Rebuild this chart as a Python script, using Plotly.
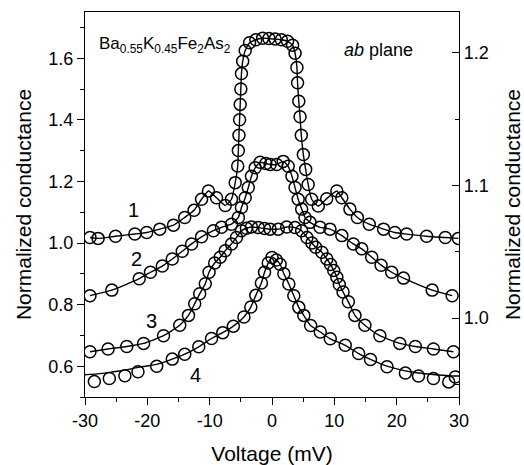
import plotly.graph_objects as go

# ---- data (Voltage in mV, normalized conductance) ----
c1_v = [-29.2, -27.9, -25.1, -22.0, -20.1, -18.0, -15.8, -14.0, -12.5, -11.3, -10.2, -8.9, -7.5, -6.5,
        -5.9, -5.5, -5.4, -5.3, -5.2, -5.1, -5.0, -4.9, -4.7, -4.3, -3.6, -2.6, -1.5, -0.5, 0.5, 1.5,
        2.5, 3.3, 3.7, 4.0, 4.1, 4.3, 4.5, 4.7, 5.03, 5.4, 5.8, 6.36, 7.43, 8.77, 10.4, 11.2, 12.5,
        13.7, 15.6, 17.9, 19.7, 21.6, 24.8, 27.8, 29.9]
c1_g = [1.018, 1.015, 1.022, 1.029, 1.034, 1.045, 1.058, 1.083, 1.106, 1.142, 1.169, 1.147, 1.122, 1.142,
        1.196, 1.25, 1.30, 1.35, 1.40, 1.45, 1.50, 1.55, 1.59, 1.625, 1.65, 1.66, 1.665, 1.664, 1.662, 1.66,
        1.655, 1.642, 1.616, 1.57, 1.52, 1.46, 1.41, 1.35, 1.287, 1.239, 1.19, 1.142, 1.12, 1.144, 1.169, 1.147, 1.11,
        1.083, 1.061, 1.045, 1.034, 1.029, 1.022, 1.018, 1.015]

c2_v = [-29.2, -25.7, -21.3, -19.5, -17.6, -16.0, -14.4, -12.9, -11.3, -9.4, -8.1, -6.5, -5.4, -4.9,
        -4.3, -3.8, -3.3, -2.7, -1.9, -1.0, -0.3, 0.75, 1.8, 2.6, 3.2, 3.7, 4.2, 4.76, 5.3, 6.1, 7.7,
        9.3, 11.2, 13.05, 14.4, 16.0, 17.5, 19.2, 21.1, 25.7, 28.9]
c2_g = [0.829, 0.847, 0.884, 0.905, 0.925, 0.948, 0.973, 0.997, 1.02, 1.04, 1.051, 1.061, 1.083, 1.115,
        1.147, 1.18, 1.217, 1.244, 1.262, 1.258, 1.255, 1.255, 1.265, 1.249, 1.217, 1.18, 1.142, 1.11, 1.083, 1.067, 1.051,
        1.045, 1.024, 0.997, 0.981, 0.954, 0.928, 0.905, 0.886, 0.847, 0.829]

c3_v = [-29.2, -26.3, -23.3, -20.6, -17.4, -14.8, -13.4, -12.4, -11.6, -10.7, -10.1, -9.2, -8.3, -7.5,
        -6.5, -5.7, -4.9, -4.1, -3.3, -2.2, -1.2, -0.3, 1.0, 2.35, 3.7, 4.76, 5.6, 6.4, 7.0, 8.0, 8.8,
        9.4, 9.9, 10.4, 10.8, 11.4, 12.25, 13.3, 14.9, 17.3, 20.5, 23.0, 25.9, 29.1]
c3_g = [0.647, 0.656, 0.664, 0.674, 0.699, 0.733, 0.765, 0.803, 0.835, 0.868, 0.905, 0.935, 0.954, 0.975,
        0.997, 1.018, 1.040, 1.048, 1.052, 1.050, 1.047, 1.045, 1.045, 1.052, 1.050, 1.04, 1.018, 1.0, 0.986, 0.97, 0.948,
        0.93, 0.911, 0.889, 0.865, 0.841, 0.809, 0.765, 0.733, 0.699, 0.674, 0.664, 0.656, 0.647]

c4_v = [-28.5, -26.1, -23.6, -21.5, -18.5, -16.0, -14.0, -11.75, -9.7, -7.9, -6.2, -4.5, -3.4, -2.6,
        -1.7, -1.2, -0.6, 0.0, 0.7, 1.3, 1.9, 2.7, 3.5, 4.3, 5.1, 6.2, 7.75, 9.35, 11.75, 13.9, 15.8,
        18.45, 21.4, 23.5, 25.9, 28.35, 29.4]
c4_g = [0.55, 0.56, 0.569, 0.582, 0.60, 0.623, 0.639, 0.663, 0.69, 0.709, 0.73, 0.76, 0.792, 0.83,
        0.87, 0.905, 0.935, 0.953, 0.945, 0.931, 0.9, 0.867, 0.829, 0.791, 0.765, 0.732, 0.711, 0.689, 0.668, 0.641, 0.622,
        0.598, 0.578, 0.568, 0.56, 0.549, 0.565]

c4_line_v = [-30, -28, -26, -24, -21.5, -18.5, -16.0, -14.0, -11.75, -9.7, -7.9, -6.2, -4.5, -3.4, -2.6,
             -1.7, -1.2, -0.6, 0.0, 0.7, 1.3, 1.9, 2.7, 3.5, 4.3, 5.1, 6.2, 7.75, 9.35, 11.75, 13.9, 15.8,
             18.45, 21.4, 23.5, 25.9, 28.35, 30]
c4_line_g = [0.572, 0.575, 0.58, 0.586, 0.596, 0.606, 0.623, 0.639, 0.663, 0.69, 0.709, 0.73, 0.76, 0.792, 0.83,
             0.87, 0.905, 0.935, 0.955, 0.945, 0.931, 0.9, 0.867, 0.829, 0.791, 0.765, 0.732, 0.711, 0.689, 0.668, 0.641, 0.622,
             0.6, 0.585, 0.578, 0.573, 0.569, 0.568]

curve_labels = ["1", "2", "3", "4"]
label_v = [-22.3, -21.7, -19.3, -12.2]
label_g = [1.106, 0.948, 0.748, 0.571]

x_tickvals = [-30, -20, -10, 0, 10, 20, 30]
x_ticktext = ["-30", "-20", "-10", "0", "10", "20", "30"]
y_tickvals = [0.6, 0.8, 1.0, 1.2, 1.4, 1.6]
y_ticktext = ["0.6", "0.8", "1.0", "1.2", "1.4", "1.6"]
y2_tickvals = [1.0, 1.1, 1.2]
y2_ticktext = ["1.0", "1.1", "1.2"]

FONT = "Liberation Sans, Arial, sans-serif"

fig = go.Figure()
mk = dict(symbol="circle-open", size=12, color="black", line=dict(width=1.5, color="black"))
ln = dict(color="black", width=1.4, shape="spline", smoothing=0.5)
for v, g in [(c1_v, c1_g), (c2_v, c2_g), (c3_v, c3_g)]:
    fig.add_trace(go.Scatter(x=v, y=g, mode="lines+markers", marker=mk, line=ln,
                             showlegend=False, hoverinfo="skip"))
fig.add_trace(go.Scatter(x=c4_line_v, y=c4_line_g, mode="lines", line=ln, showlegend=False, hoverinfo="skip"))
fig.add_trace(go.Scatter(x=c4_v, y=c4_g, mode="markers", marker=mk, showlegend=False, hoverinfo="skip"))
# empty trace so the right-hand axis gets drawn
fig.add_trace(go.Scatter(x=[], y=[], yaxis="y2", mode="markers", showlegend=False, hoverinfo="skip"))

for t, v, g in zip(curve_labels, label_v, label_g):
    fig.add_annotation(x=v, y=g, xref="x", yref="y", text=t, showarrow=False,
                       font=dict(family=FONT, size=20, color="black"))

fig.add_annotation(x=-28.1, y=1.642, xref="x", yref="y", xanchor="left", yanchor="middle",
                   text="Ba<sub>0.55</sub>K<sub>0.45</sub>Fe<sub>2</sub>As<sub>2</sub>", showarrow=False,
                   font=dict(family=FONT, size=17, color="black"))
fig.add_annotation(x=11.2, y=1.626, xref="x", yref="y", xanchor="left", yanchor="middle",
                   text="<i>ab</i> plane", showarrow=False,
                   font=dict(family=FONT, size=18, color="black"))

axis_common = dict(showgrid=False, zeroline=False, showline=True, linecolor="black", linewidth=1.3,
                   tickcolor="black", tickwidth=1.3, automargin=False,
                   tickfont=dict(family=FONT, size=18, color="black"))

fig.update_layout(
    width=524, height=465,
    margin=dict(l=85, r=65, t=12, b=68),
    plot_bgcolor="white", paper_bgcolor="white",
    font=dict(family=FONT, color="black"),
    xaxis=dict(range=[-30, 30], tickmode="array", tickvals=x_tickvals, ticktext=x_ticktext,
               ticks="outside", ticklen=7, mirror=True,
               minor=dict(dtick=5, tick0=0, ticks="outside", ticklen=4, tickcolor="black", tickwidth=1.3),
               title=dict(text="Voltage (mV)", font=dict(family=FONT, size=21, color="black"), standoff=18),
               **axis_common),
    yaxis=dict(range=[0.5, 1.75], tickmode="array", tickvals=y_tickvals, ticktext=y_ticktext,
               ticks="outside", ticklen=7, mirror=True,
               minor=dict(dtick=0.1, tick0=0, ticks="outside", ticklen=4, tickcolor="black", tickwidth=1.3),
               title=dict(text="Normalized conductance", font=dict(family=FONT, size=21, color="black"), standoff=10),
               **axis_common),
    yaxis2=dict(overlaying="y", side="right", range=[0.9406, 1.2306], tickmode="array",
                tickvals=y2_tickvals, ticktext=y2_ticktext, ticks="inside", ticklen=7,
                minor=dict(dtick=0.05, tick0=0, ticks="inside", ticklen=4, tickcolor="black", tickwidth=1.3),
                title=dict(text="Normalized conductance", font=dict(family=FONT, size=21, color="black"), standoff=17),
                **axis_common),
)

fig.write_html("out.html")
